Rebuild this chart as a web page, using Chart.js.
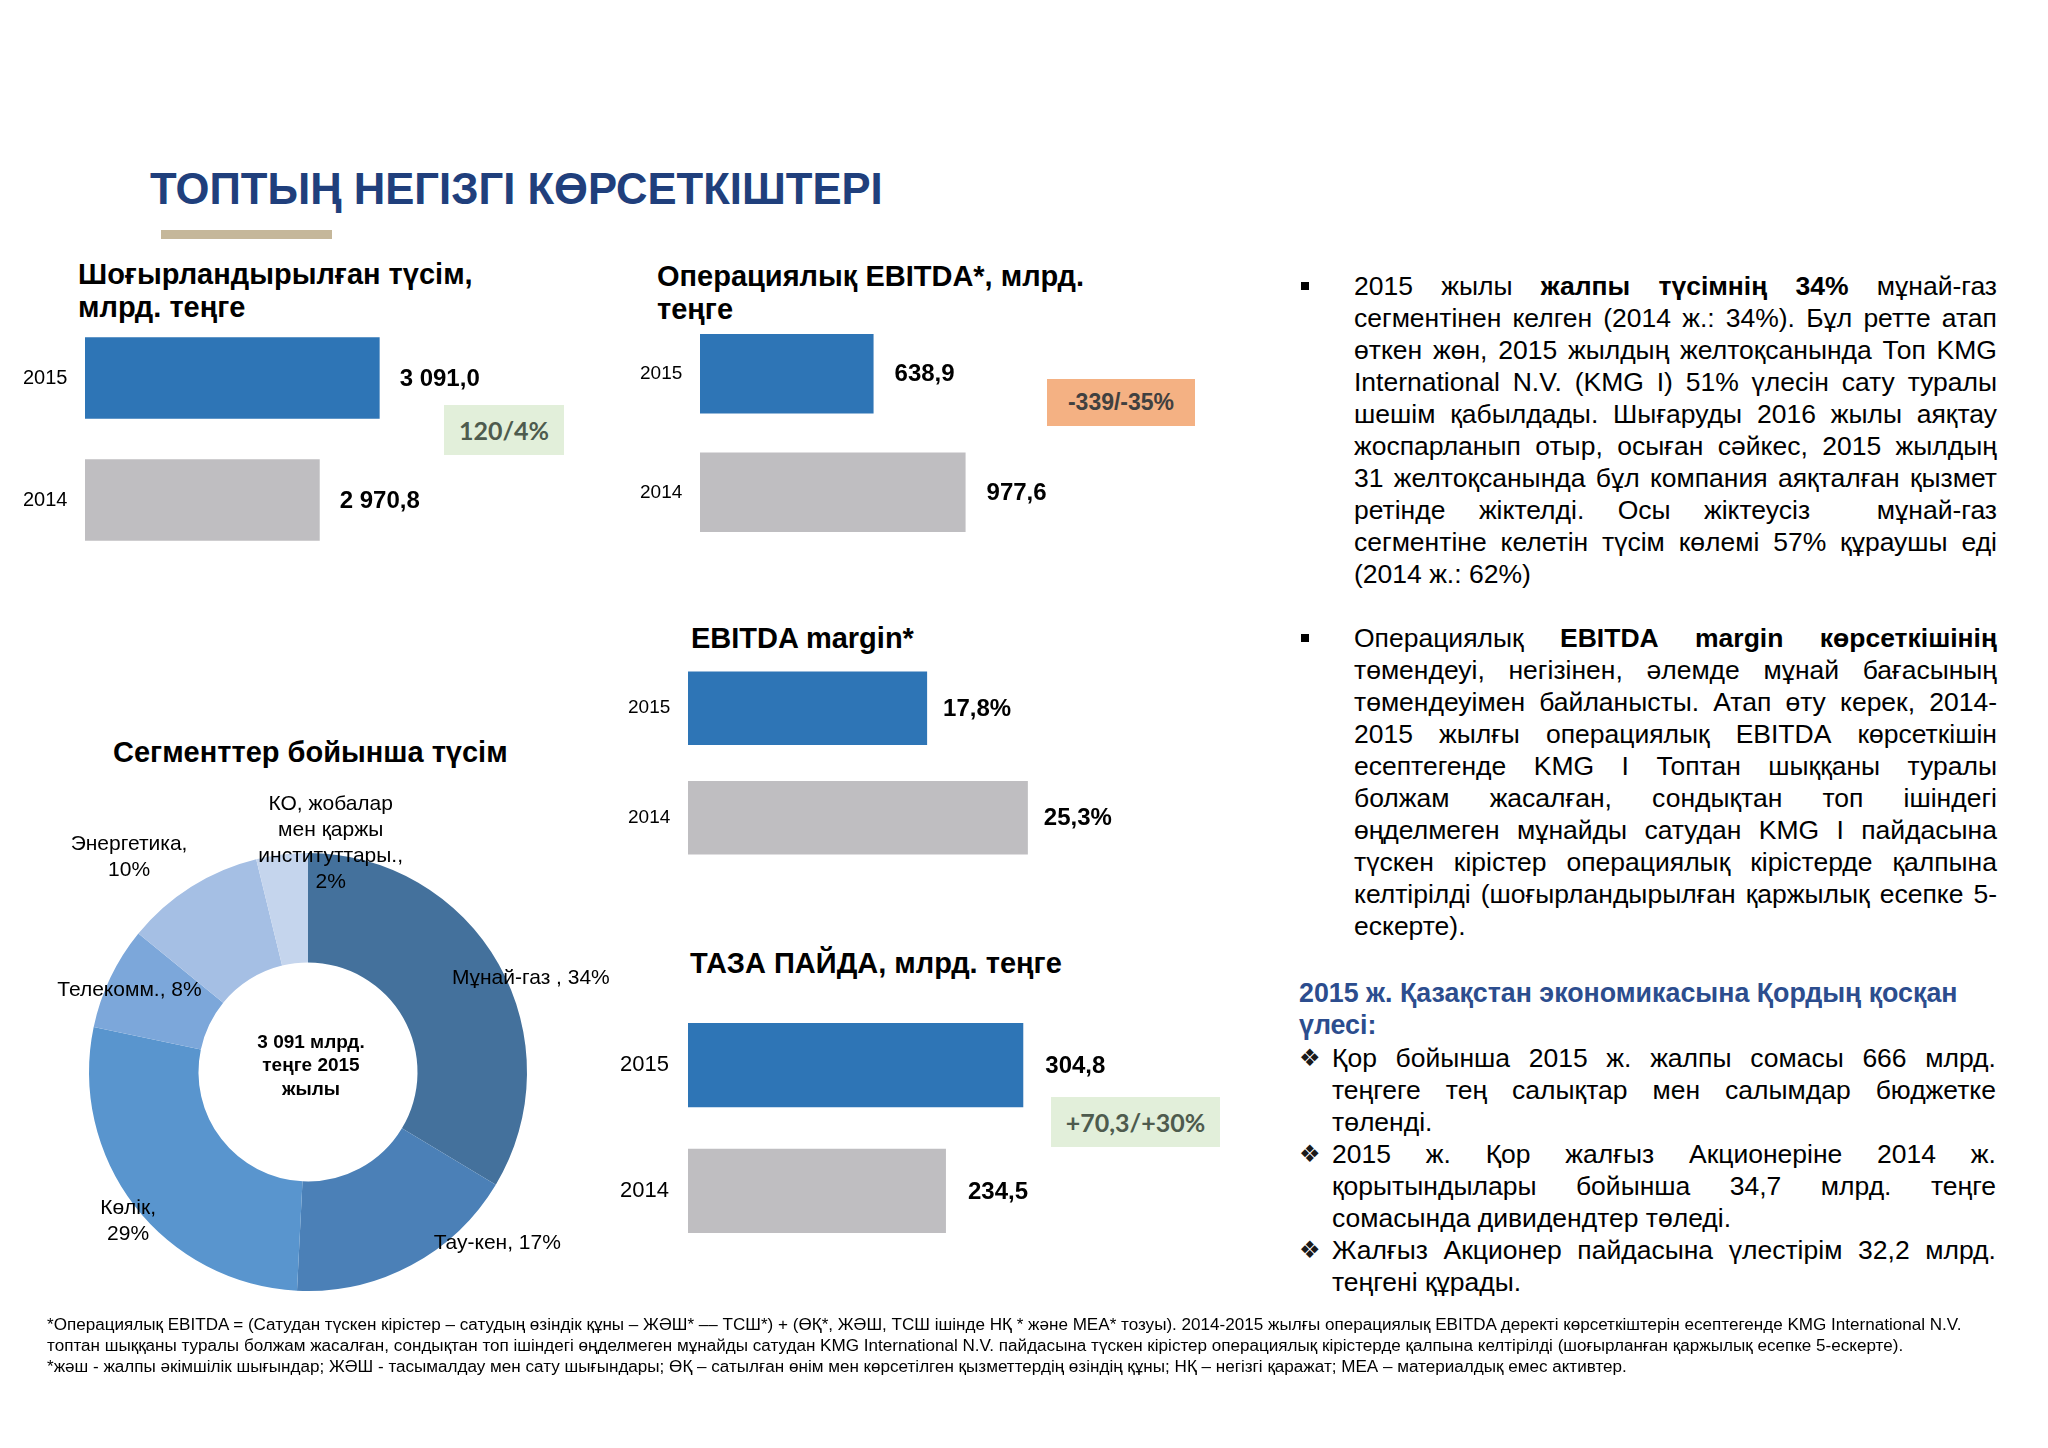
<!DOCTYPE html>
<html lang="kk">
<head>
<meta charset="utf-8">
<title>Топтың негізгі көрсеткіштері</title>
<script src="https://cdn.jsdelivr.net/npm/chart.js@4.4.1/dist/chart.umd.min.js"></script>
<style>
  html, body { margin: 0; padding: 0; background: #fff; }
  body { width: 2048px; height: 1448px; position: relative; overflow: hidden;
         font-family: "Liberation Sans", Arial, Helvetica, sans-serif; color: #000; }
  .abs { position: absolute; }
  canvas { position: absolute; }
  .title { left: 150px; top: 164px; font-size: 42px; line-height: 50px; font-weight: bold; color: #203F7C; white-space: nowrap; }
  .rule { left: 161px; top: 230px; width: 171px; height: 9px; background: #C5B79A; }
  .head { font-size: 29px; line-height: 33px; font-weight: bold; white-space: nowrap; }
  .delta { display: flex; align-items: center; justify-content: center; font-weight: bold; }
  .green { background: #E2EFDA; color: #4E5B4E; font-family: Lato, "Open Sans", sans-serif; font-size: 25px; }
  .orange { background: #F4B183; color: #404040; font-size: 23px; }
  .txt { font-size: 26.5px; }
  .ln { height: 32px; line-height: 32px; white-space: nowrap; }
  .ln.j { display: flex; justify-content: space-between; }
  .sq { width: 8px; height: 8px; background: #000; }
  .dia { font-family: "DejaVu Sans", sans-serif; font-size: 24px; line-height: 32px; color: #1a1a1a; }
  .sub { font-size: 26.8px; line-height: 32px; font-weight: bold; color: #2C4D8E; white-space: nowrap; }
  .foot { left: 47px; top: 1314px; font-size: 17px; line-height: 21px; white-space: nowrap; }
  .foot div { width: max-content; }
</style>
</head>
<body>

<div class="abs title" id="title">ТОПТЫҢ НЕГІЗГІ КӨРСЕТКІШТЕРІ</div>
<div class="abs rule"></div>

<div class="abs head" style="left:78px; top:258px">Шоғырландырылған түсім,<br>млрд. теңге</div>
<div class="abs head" style="left:657px; top:260px">Операциялық EBITDA*, млрд.<br>теңге</div>
<div class="abs head" style="left:691px; top:622px">EBITDA margin*</div>
<div class="abs head" style="left:690px; top:947px">ТАЗА ПАЙДА, млрд. теңге</div>
<div class="abs head" style="left:113px; top:736px">Сегменттер бойынша түсім</div>

<canvas id="revenue" width="520" height="268" style="left:23px; top:305px"></canvas>
<canvas id="ebitda" width="506" height="260" style="left:640px; top:303px"></canvas>
<canvas id="margin" width="493" height="242" style="left:628px; top:642px"></canvas>
<canvas id="profit" width="503" height="278" style="left:620px; top:989px"></canvas>
<canvas id="segments" width="600" height="560" style="left:20px; top:790px"></canvas>

<div class="abs delta green" style="left:444px; top:405px; width:120px; height:50px">120/4%</div>
<div class="abs delta orange" style="left:1047px; top:379px; width:148px; height:47px">-339/-35%</div>
<div class="abs delta green" style="left:1051px; top:1097px; width:169px; height:50px">+70,3/+30%</div>

<div class="abs sq" style="left:1301px; top:282px"></div>
<div class="abs txt" id="para1" style="left:1354px; top:270px; width:643px"></div>
<div class="abs sq" style="left:1301px; top:634px"></div>
<div class="abs txt" id="para2" style="left:1354px; top:622px; width:643px"></div>

<div class="abs sub" id="contribHead" style="left:1299px; top:977px"></div>
<div class="abs txt" id="contrib" style="left:1332px; top:1042px; width:664px"></div>

<div class="abs foot" id="foot"></div>

<script>
  // --- chart data ---
  var years = ['2015', '2014'];
  var revenueValues = [3091.0, 2970.8];   // млрд. теңге
  var ebitdaValues = [638.9, 977.6];      // млрд. теңге
  var marginValues = [17.8, 25.3];        // %
  var profitValues = [304.8, 234.5];      // млрд. теңге
  var barColors = ['#2E75B6', '#BFBEC1'];

  var segmentNames = ['Мұнай-газ', 'Тау-кен', 'Көлік', 'Телекомм.', 'Энергетика', 'КО, жобалар мен қаржы институттары.'];
  var segmentShares = [33.6, 17.2, 27.5, 7.6, 10.3, 3.8]; // slice sizes as drawn
  var segmentLabels = [
    ['Мұнай-газ , 34%'],
    ['Тау-кен, 17%'],
    ['Көлік,', '29%'],
    ['Телекомм., 8%'],
    ['Энергетика,', '10%'],
    ['КО, жобалар', 'мен қаржы', 'институттары.,', '2%']
  ];
  var segmentColors = ['#44719C', '#4B80B7', '#5995CE', '#7CA7DA', '#A5BFE4', '#C5D5ED'];
  var centreCaption = ['3 091 млрд.', 'теңге 2015', 'жылы'];

  // --- text blocks ---
  var para1 = [
    '2015 жылы **жалпы түсімнің 34%** мұнай-газ',
    'сегментінен келген (2014 ж.: 34%). Бұл ретте атап',
    'өткен жөн, 2015 жылдың желтоқсанында Топ KMG',
    'International N.V. (KMG I) 51% үлесін сату туралы',
    'шешім қабылдады. Шығаруды 2016 жылы аяқтау',
    'жоспарланып отыр, осыған сәйкес, 2015 жылдың',
    '31 желтоқсанында бұл компания аяқталған қызмет',
    'ретінде жіктелді. Осы жіктеусіз _ мұнай-газ',
    'сегментіне келетін түсім көлемі 57% құраушы еді',
    '(2014 ж.: 62%)'
  ];
  var para2 = [
    'Операциялық **EBITDA margin көрсеткішінің**',
    'төмендеуі, негізінен, әлемде мұнай бағасының',
    'төмендеуімен байланысты. Атап өту керек, 2014-',
    '2015 жылғы операциялық EBITDA көрсеткішін',
    'есептегенде KMG I Топтан шыққаны туралы',
    'болжам жасалған, сондықтан топ ішіндегі',
    'өңделмеген мұнайды сатудан KMG I пайдасына',
    'түскен кірістер операциялық кірістерде қалпына',
    'келтірілді (шоғырландырылған қаржылық есепке 5-',
    'ескерте).'
  ];
  var contribHead = ['2015 ж. Қазақстан экономикасына Қордың қосқан', 'үлесі:'];
  var contribItems = [
    ['Қор бойынша 2015 ж. жалпы сомасы 666 млрд.', 'теңгеге тең салықтар мен салымдар бюджетке', 'төленді.'],
    ['2015 ж. Қор жалғыз Акционеріне 2014 ж.', 'қорытындылары бойынша 34,7 млрд. теңге', 'сомасында дивидендтер төледі.'],
    ['Жалғыз Акционер пайдасына үлестірім 32,2 млрд.', 'теңгені құрады.']
  ];
  var footnotes = [
    '*Операциялық EBITDA = (Сатудан түскен кірістер – сатудың өзіндік құны – ЖӘШ* –– ТСШ*) + (ӨҚ*, ЖӘШ, ТСШ ішінде НҚ * және МЕА* тозуы). 2014-2015 жылғы операциялық EBITDA деректі көрсеткіштерін есептегенде KMG International N.V.',
    'топтан шыққаны туралы болжам жасалған, сондықтан топ ішіндегі өңделмеген мұнайды сатудан KMG International N.V. пайдасына түскен кірістер операциялық кірістерде қалпына келтірілді (шоғырланған қаржылық есепке 5-ескерте).',
    '*жәш - жалпы әкімшілік шығындар; ЖӘШ - тасымалдау мен сату шығындары; ӨҚ – сатылған өнім мен көрсетілген қызметтердің өзіндің құны; НҚ – негізгі қаражат; МЕА – материалдық емес активтер.'
  ];

  var FONT = '"Liberation Sans", Arial, sans-serif';
  Chart.defaults.font.family = FONT;
  Chart.defaults.color = '#000';

  function fmtNum(v, dec, suffix) {
    var s = v.toFixed(dec).split('.');
    var whole = s[0].replace(/\B(?=(\d{3})+(?!\d))/g, ' ');
    return (dec ? whole + ',' + s[1] : whole) + (suffix || '');
  }

  // value text at the end of each bar
  var valueLabels = {
    id: 'valueLabels',
    afterDatasetsDraw: function(chart, args, opts) {
      var ctx = chart.ctx;
      var meta = chart.getDatasetMeta(0);
      var data = chart.data.datasets[0].data;
      ctx.save();
      ctx.font = 'bold 24px ' + FONT;
      ctx.fillStyle = '#000';
      ctx.textBaseline = 'middle';
      ctx.textAlign = 'left';
      meta.data.forEach(function(bar, i) {
        ctx.fillText(fmtNum(data[i], opts.dec, opts.suffix), bar.x + opts.offset, bar.y + 1);
      });
      ctx.restore();
    }
  };

  function barChart(id, values, o) {
    return new Chart(document.getElementById(id), {
      type: 'bar',
      data: {
        labels: years,
        datasets: [{
          data: values,
          backgroundColor: barColors,
          barPercentage: 0.67,
          categoryPercentage: 1
        }]
      },
      options: {
        indexAxis: 'y',
        responsive: false,
        animation: false,
        layout: { padding: { top: 10, bottom: 10, left: 0, right: o.padRight } },
        plugins: {
          legend: { display: false },
          tooltip: { enabled: false },
          valueLabels: { offset: o.offset, dec: 1, suffix: o.suffix }
        },
        scales: {
          x: { display: false, min: o.min, max: o.max },
          y: {
            grid: { display: false, drawTicks: false },
            border: { display: false },
            ticks: { color: '#000', padding: 0, crossAlign: 'far', font: { size: o.tick } },
            afterFit: function(axis) { axis.width = o.axis; }
          }
        }
      },
      plugins: [valueLabels]
    });
  }

  barChart('revenue', revenueValues, { min: 2500, max: 3200, axis: 62, padRight: 109, tick: 20, offset: 20 });
  barChart('ebitda', ebitdaValues, { min: 0, max: 1200, axis: 60, padRight: 120, tick: 19, offset: 21 });
  barChart('margin', marginValues, { min: 0, max: 30, axis: 60, padRight: 30, tick: 19, offset: 16, suffix: '%' });
  barChart('profit', profitValues, { min: 0, max: 350, axis: 68, padRight: 50, tick: 22, offset: 22 });

  // labels around the ring: shift in degrees from the slice middle, distance as a share of the outer radius
  var labelPlace = [
    { shift: 6.6, dist: 1.105 },
    { shift: -19.8, dist: 1.165 },
    { shift: -2.1, dist: 1.068 },
    { shift: -0.9, dist: 0.897 },
    { shift: -7.6, dist: 1.276 },
    { shift: 12.5, dist: 1.051 }
  ];

  var donutLabels = {
    id: 'donutLabels',
    afterDraw: function(chart) {
      var ctx = chart.ctx;
      var arcs = chart.getDatasetMeta(0).data;
      ctx.save();
      ctx.fillStyle = '#000';
      ctx.textAlign = 'center';
      ctx.textBaseline = 'middle';
      ctx.font = '21px ' + FONT;
      arcs.forEach(function(arc, i) {
        var p = labelPlace[i];
        var a = (arc.startAngle + arc.endAngle) / 2 + p.shift * Math.PI / 180;
        var r = arc.outerRadius * p.dist;
        var x = arc.x + r * Math.cos(a);
        var y = arc.y + r * Math.sin(a);
        var lines = segmentLabels[i];
        lines.forEach(function(t, k) {
          ctx.fillText(t, x, y + (k - (lines.length - 1) / 2) * 26);
        });
      });
      var c = arcs[0];
      ctx.font = 'bold 19px ' + FONT;
      centreCaption.forEach(function(t, k) {
        ctx.fillText(t, c.x + 3, c.y - 6 + (k - 1) * 23.5);
      });
      ctx.restore();
    }
  };

  new Chart(document.getElementById('segments'), {
    type: 'doughnut',
    data: {
      labels: segmentNames,
      datasets: [{
        data: segmentShares,
        backgroundColor: segmentColors,
        borderWidth: 0
      }]
    },
    options: {
      responsive: false,
      animation: false,
      cutout: '50%',
      layout: { padding: { left: 69, right: 93, top: 63, bottom: 59 } },
      plugins: { legend: { display: false }, tooltip: { enabled: false } }
    },
    plugins: [donutLabels]
  });

  // --- text layout helpers ---
  function lineEl(text, justify) {
    var d = document.createElement('div');
    d.className = justify ? 'ln j' : 'ln';
    text.split('**').forEach(function(part, k) {
      var tag = k % 2 ? 'b' : 'span';
      if (justify) {
        part.split(' ').forEach(function(w) {
          if (w === '') return;
          var s = document.createElement(tag);
          s.textContent = w === '_' ? '' : w;
          d.appendChild(s);
        });
      } else {
        var s = document.createElement(tag);
        s.textContent = part;
        d.appendChild(s);
      }
    });
    return d;
  }

  function fillPara(id, lines) {
    var el = document.getElementById(id);
    lines.forEach(function(t, i) { el.appendChild(lineEl(t, i < lines.length - 1)); });
  }
  fillPara('para1', para1);
  fillPara('para2', para2);

  document.getElementById('contribHead').innerHTML = contribHead.join('<br>');

  var contrib = document.getElementById('contrib');
  var row = 0;
  contribItems.forEach(function(item) {
    var mark = document.createElement('div');
    mark.className = 'abs dia';
    mark.textContent = '❖';
    mark.style.left = '1299px';
    mark.style.top = (1042 + row * 32) + 'px';
    document.body.appendChild(mark);
    item.forEach(function(t, i) {
      contrib.appendChild(lineEl(t, i < item.length - 1));
      row++;
    });
  });

  var foot = document.getElementById('foot');
  footnotes.forEach(function(t) {
    var d = document.createElement('div');
    d.textContent = t;
    foot.appendChild(d);
  });
  // footnote first line runs from x=47 to x=1962
  var w0 = foot.firstChild.offsetWidth;
  foot.style.fontSize = (17 * 1915 / w0).toFixed(2) + 'px';

  // title spans x=150..883
  var title = document.getElementById('title');
  title.style.width = 'max-content';
  title.style.fontSize = (42 * 733 / title.offsetWidth).toFixed(2) + 'px';
</script>
</body>
</html>
